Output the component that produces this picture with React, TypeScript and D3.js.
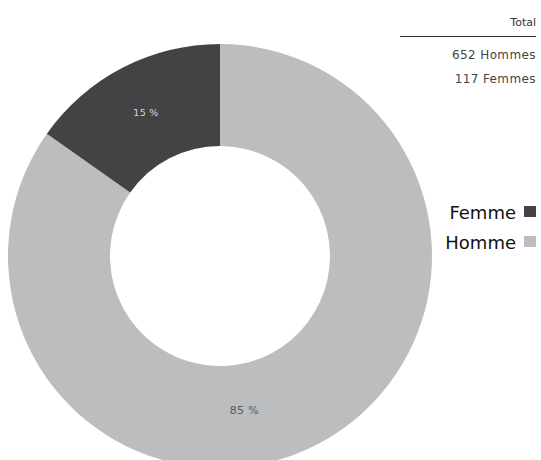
import React from "react";
import * as d3 from "d3";

const categories = ["Homme", "Femme"];
const counts = [652, 117];
const percentLabels = ["85 %", "15 %"];
const legendOrder = ["Femme", "Homme"];
const colors: Record<string, string> = { Homme: "#bcbdbf", Femme: "#434345" };
const labelColors: Record<string, string> = { Homme: "#5a5a5c", Femme: "#d8d8d8" };
const totalTitle = "Total";
const totalLines = ["652 Hommes", "117 Femmes"];

export default function App() {
  const W = 541, H = 460;
  const cx = 220, cy = 256, R = 212, r = 110;
  const data = categories.map((c, i) => ({ c, v: counts[i], label: percentLabels[i] }));
  const pie = d3.pie<any>().value((d) => d.v).sort(null).startAngle(0).endAngle(2 * Math.PI);
  const arcs = pie(data);
  const arc = d3.arc<any>().innerRadius(r).outerRadius(R);
  const font = "'DejaVu Sans', sans-serif";
  return (
    <svg width={W} height={H} style={{ position: "absolute", left: 0, top: 0, fontFamily: font }}>
      <g transform={`translate(${cx},${cy})`}>
        {arcs.map((a) => (
          <path key={a.data.c} d={arc(a) as string} fill={colors[a.data.c]} />
        ))}
        {arcs.map((a) => {
          let [x, y] = arc.centroid(a);
          if (a.data.c === "Homme") {
            const ang = (171 * Math.PI) / 180;
            const rr = 156;
            x = rr * Math.sin(ang);
            y = -rr * Math.cos(ang);
          }
          return (
            <text key={a.data.c + "l"} x={x} y={y} textAnchor="middle" dy="0.35em"
              fontSize={a.data.c === "Homme" ? 11 : 9.5} fill={labelColors[a.data.c]} letterSpacing={0.3}>
              {a.data.label}
            </text>
          );
        })}
      </g>
      <text x={536} y={26} textAnchor="end" fontSize={11} fill="#333">{totalTitle}</text>
      <line x1={400} x2={536} y1={36.5} y2={36.5} stroke="#333" strokeWidth={1} />
      {totalLines.map((t, i) => (
        <text key={t} x={536} y={59 + i * 24} textAnchor="end" fontSize={12} letterSpacing={0.4} fill="#444">{t}</text>
      ))}
      {legendOrder.map((c, i) => (
        <g key={c}>
          <text x={516} y={219 + i * 30} textAnchor="end" fontSize={18} fill="#111">{c}</text>
          <rect x={524} y={206 + i * 30} width={12} height={11} fill={colors[c]} />
        </g>
      ))}
    </svg>
  );
}
